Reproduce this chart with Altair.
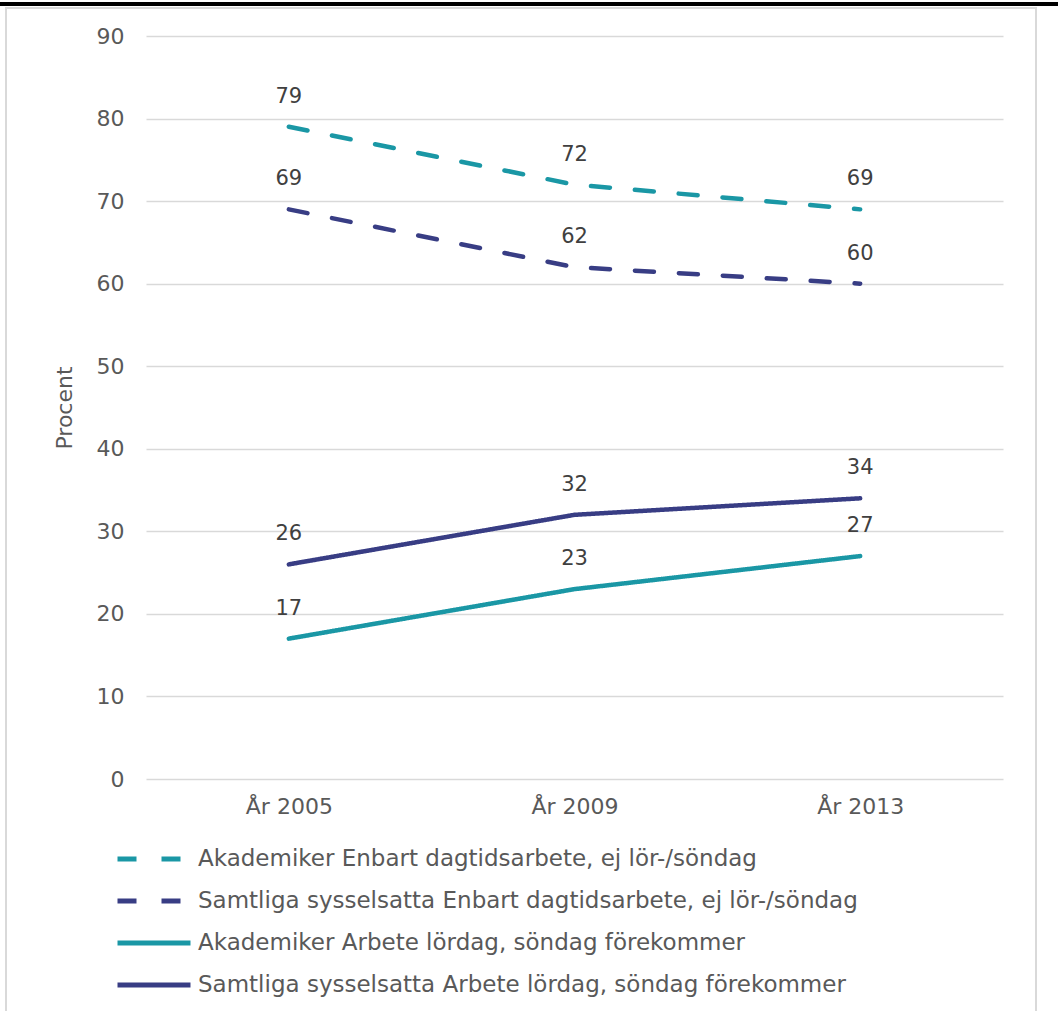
import altair as alt
import pandas as pd

years = ["År 2005", "År 2009", "År 2013"]
series_names = [
    "Akademiker Enbart dagtidsarbete, ej lör-/söndag",
    "Samtliga sysselsatta Enbart dagtidsarbete, ej lör-/söndag",
    "Akademiker Arbete lördag, söndag förekommer",
    "Samtliga sysselsatta Arbete lördag, söndag förekommer",
]
akad_dag = [79, 72, 69]
samt_dag = [69, 62, 60]
akad_helg = [17, 23, 27]
samt_helg = [26, 32, 34]
series_values = [akad_dag, samt_dag, akad_helg, samt_helg]

teal = "#1A97A5"
navy = "#383D84"
colors = [teal, navy, teal, navy]
dashes = [[19, 25], [19, 25], [1, 0], [1, 0]]

rows = []
for name, vals in zip(series_names, series_values):
    for y, v in zip(years, vals):
        rows.append({"year": y, "series": name, "value": v})
df = pd.DataFrame(rows)

FONT = "DejaVu Sans"

legend_kw = dict(title=None, orient="none", legendX=-4, legendY=811,
                 symbolType="M-4,0H4", symbolSize=333, symbolStrokeWidth=5,
                 labelFontSize=23, labelColor="#595959", labelLimit=0,
                 labelOffset=32, rowPadding=18, padding=0)

x_enc = alt.X("year:N", sort=years, title=None,
              scale=alt.Scale(paddingOuter=0.5, paddingInner=1),
              axis=alt.Axis(labelAngle=0, domain=False, ticks=False, grid=False,
                            labelFontSize=22, labelColor="#595959", labelPadding=17))
y_enc = alt.Y("value:Q", title="Procent",
              scale=alt.Scale(domain=[0, 90], nice=False),
              axis=alt.Axis(values=list(range(0, 91, 10)), domain=False, ticks=False,
                            gridColor="#D9D9D9", gridWidth=1.5,
                            labelFontSize=22, labelColor="#595959", labelPadding=22,
                            titleFontSize=22, titleFontWeight="normal", titleColor="#595959",
                            titlePadding=20))

lines = alt.Chart(df).mark_line(strokeWidth=4.5, strokeCap="round", strokeJoin="round",
                                interpolate="linear").encode(
    x=x_enc,
    y=y_enc,
    color=alt.Color("series:N", sort=series_names,
                    scale=alt.Scale(domain=series_names, range=colors),
                    legend=alt.Legend(**legend_kw)),
    strokeDash=alt.StrokeDash("series:N", sort=series_names,
                              scale=alt.Scale(domain=series_names, range=dashes),
                              legend=alt.Legend(**legend_kw)),
)

labels = alt.Chart(df).mark_text(dy=-30, fontSize=21, color="#404040", font=FONT).encode(
    x=alt.X("year:N", sort=years),
    y=alt.Y("value:Q"),
    text=alt.Text("value:Q"),
)

frame = alt.Chart(df).mark_rect(fill=None, stroke="#D9D9D9", strokeWidth=2).encode(
    x=alt.value(-140), x2=alt.value(890), y=alt.value(-28), y2=alt.value(1100)
)
topline = alt.Chart(df).mark_rule(color="black", strokeWidth=3).encode(
    x=alt.value(-146), x2=alt.value(912), y=alt.value(-32)
)

chart = alt.layer(frame, topline, lines, labels).properties(
    width=857, height=743,
    padding={"left": 146, "top": 36, "right": 55, "bottom": 232},
    autosize=alt.AutoSizeParams(type="none"),
    background="white",
).configure(font=FONT).configure_view(stroke=None)

chart.save("out.html", embed_options={"renderer": "svg", "actions": False})
